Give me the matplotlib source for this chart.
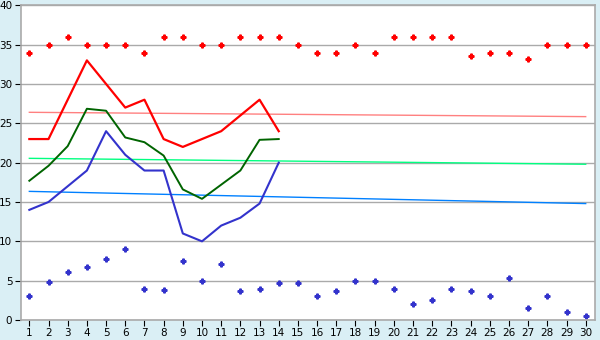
import numpy as np
import matplotlib
matplotlib.use('Agg')
import matplotlib.pyplot as plt

days = np.arange(1, 31)

max_points = [34, 35, 36, 35, 35, 35, 34, 36, 36, 35, 35, 36, 36, 36, 35,
              34, 34, 35, 34, 36, 36, 36, 36, 33.6, 34, 34, 33.2, 35, 35, 35]
min_points = [3.0, 4.8, 6.05, 6.8, 7.8, 9.0, 3.9, 3.8, 7.45, 5.0, 7.1, 3.65, 4.0, 4.65, 4.65,
              3.0, 3.65, 5.0, 5.0, 3.9, 2.0, 2.6, 4.0, 3.65, 3.0, 5.4, 1.5, 3.0, 1.0, 0.5]

line_days = np.arange(1, 15)
red_line = [23, 23, 28, 33, 30, 27, 28, 23, 22, 23, 24, 26, 28, 24]
green_line = [17.7, 19.6, 22.1, 26.85, 26.6, 23.2, 22.6, 20.9, 16.6, 15.4, 17.2, 19, 22.9, 23.0]
blue_line = [14, 15, 17, 19, 24, 21, 19, 19, 11, 10, 12, 13, 14.8, 20]

# trend lines: value at day 1 and day 30
red_trend = [26.4, 25.85]
green_trend = [20.55, 19.8]
blue_trend = [16.35, 14.8]

fig = plt.figure(figsize=(6, 3.4), dpi=100, facecolor='#daeff5')
ax = fig.add_axes([0.0345, 0.0588, 0.957, 0.9256])
ax.set_facecolor('white')

ax.set_xlim(0.55, 30.48)
ax.set_ylim(0, 40)
ax.set_yticks(range(0, 41, 5))
ax.set_xticks(days)
ax.grid(axis='y', color='#aaaaaa', linewidth=1)
ax.set_axisbelow(True)
for s in ax.spines.values():
    s.set_color('#aaaaaa')
    s.set_linewidth(1.2)
ax.tick_params(axis='both', labelsize=7.5, color='black', length=4, pad=2)

ends = [1, 30]
ax.plot(ends, red_trend, color='#ff8080', linewidth=1)
ax.plot(ends, green_trend, color='#00ff80', linewidth=1)
ax.plot(ends, blue_trend, color='#0080ff', linewidth=1)

ax.plot(line_days, red_line, color='#ff0000', linewidth=1.6)
ax.plot(line_days, green_line, color='#006400', linewidth=1.4)
ax.plot(line_days, blue_line, color='#3333cc', linewidth=1.5)

ax.plot(days, max_points, 'P', color='#ff0000', markersize=3.5, linestyle='none')
ax.plot(days, min_points, 'P', color='#3333cc', markersize=3.5, linestyle='none')

fig.savefig('out.png', facecolor=fig.get_facecolor())
